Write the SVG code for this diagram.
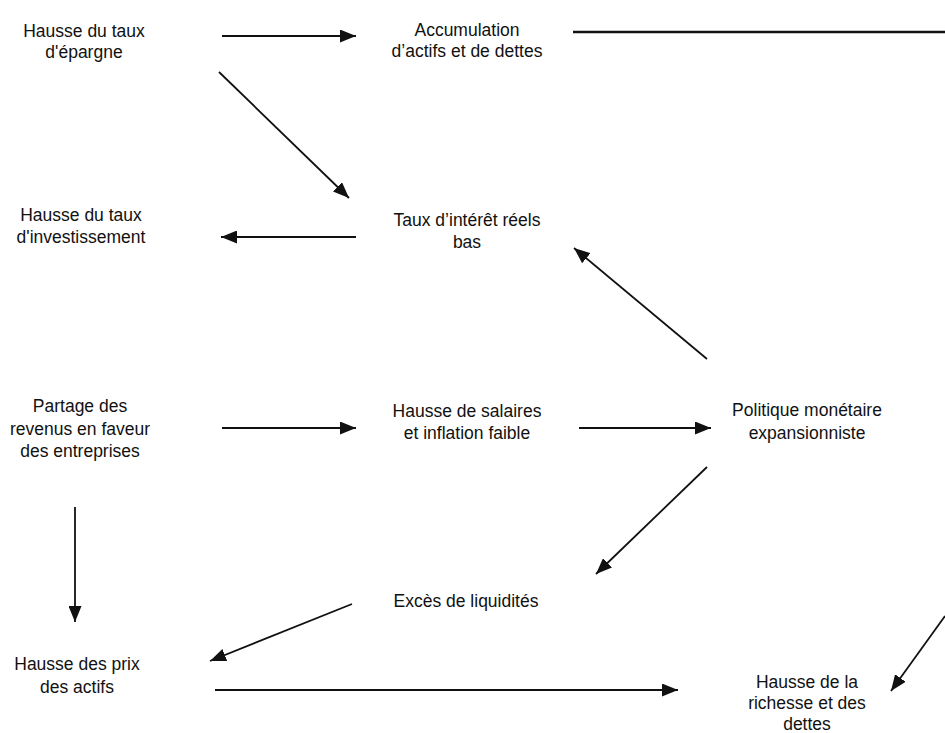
<svg xmlns="http://www.w3.org/2000/svg" width="945" height="733" viewBox="0 0 945 733">
<style>
text{font-family:"Liberation Sans",Arial,sans-serif;font-size:17.5px;fill:#111;text-anchor:middle}
.c{stroke:#111;stroke-width:1.8;fill:none}
.a{marker-end:url(#ah)}
</style>
<defs>
<marker id="ah" markerUnits="userSpaceOnUse" viewBox="0 0 16 13" refX="16" refY="6.5" markerWidth="16" markerHeight="13" orient="auto">
<path d="M0,0 L16,6.5 L0,13 z" fill="#111"/>
</marker>
</defs>
<rect width="945" height="733" fill="#fff"/>
<g id="connectors">
<line class="c a" x1="222" y1="36" x2="356" y2="36"/>
<line class="c" x1="573" y1="32" x2="945" y2="32" style="stroke-width:2.6"/>
<line class="c a" x1="219" y1="72" x2="349" y2="198"/>
<line class="c a" x1="356" y1="237" x2="221" y2="237"/>
<line class="c a" x1="707" y1="359" x2="574" y2="248"/>
<line class="c a" x1="222" y1="428" x2="356" y2="428"/>
<line class="c a" x1="579" y1="428" x2="711" y2="428"/>
<line class="c a" x1="707" y1="467" x2="596" y2="574"/>
<line class="c a" x1="75" y1="507" x2="75" y2="622"/>
<line class="c a" x1="352" y1="604" x2="210" y2="661"/>
<line class="c a" x1="215" y1="690" x2="678" y2="690"/>
<line class="c a" x1="945" y1="616" x2="891" y2="691"/>
</g>
<g id="n1"><text x="84" y="37">Hausse du taux</text><text x="84" y="58">d'épargne</text></g>
<g id="n2"><text x="467" y="36">Accumulation</text><text x="467" y="57">d’actifs et de dettes</text></g>
<g id="n3"><text x="81" y="221">Hausse du taux</text><text x="81" y="243">d'investissement</text></g>
<g id="n4"><text x="467" y="226">Taux d’intérêt réels</text><text x="467" y="248">bas</text></g>
<g id="n5"><text x="80" y="412">Partage des</text><text x="80" y="435">revenus en faveur</text><text x="80" y="457">des entreprises</text></g>
<g id="n6"><text x="467" y="417">Hausse de salaires</text><text x="467" y="439">et inflation faible</text></g>
<g id="n7"><text x="807" y="416">Politique monétaire</text><text x="807" y="439">expansionniste</text></g>
<g id="n8"><text x="466" y="607">Excès de liquidités</text></g>
<g id="n9"><text x="77" y="670">Hausse des prix</text><text x="77" y="693">des actifs</text></g>
<g id="n10"><text x="807" y="688">Hausse de la</text><text x="807" y="709">richesse et des</text><text x="807" y="730">dettes</text></g>
</svg>
